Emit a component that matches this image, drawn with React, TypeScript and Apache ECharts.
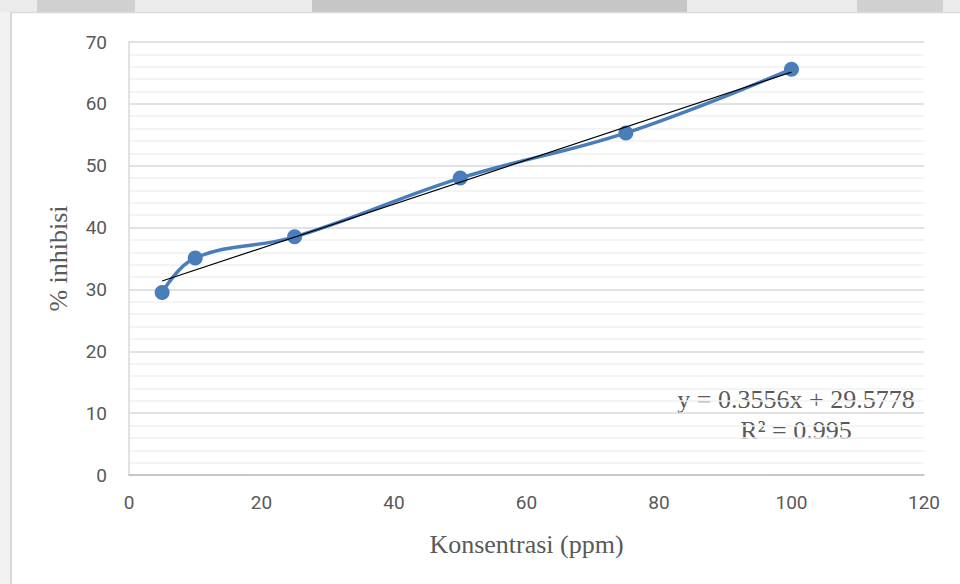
import React, { useEffect, useRef } from "react";
import * as echarts from "echarts";

const concentrations = [5, 10, 25, 50, 75, 100];
const inhibition = [29.5, 35.1, 38.5, 48.0, 55.3, 65.6];
const slope = 0.3556;
const intercept = 29.5778;
const rSquared = "0.995";
const xTicks = { min: 0, max: 120, interval: 20 };
const yTicks = { min: 0, max: 70, interval: 10 };

export default function App() {
  const ref = useRef<HTMLDivElement>(null);
  useEffect(() => {
    if (!ref.current) return;
    const chart = echarts.init(ref.current, null, { renderer: "svg" });
    const x0 = concentrations[0];
    const x1 = concentrations[concentrations.length - 1];
    const trend = [
      [x0, slope * x0 + intercept],
      [x1, slope * x1 + intercept],
    ];
    chart.setOption({
      animation: false,
      backgroundColor: "#ffffff",
      grid: { left: 129, right: 36, top: 42, bottom: 109, containLabel: false },
      xAxis: {
        type: "value",
        min: xTicks.min,
        max: xTicks.max,
        interval: xTicks.interval,
        name: "Konsentrasi (ppm)",
        nameLocation: "middle",
        nameGap: 56,
        nameTextStyle: { fontFamily: "Liberation Serif", fontSize: 26, color: "#595959" },
        axisLine: { show: true, lineStyle: { color: "#bfbfbf", width: 1.5 } },
        axisTick: { show: false },
        splitLine: { show: false },
        axisLabel: { fontFamily: "Roboto", fontSize: 19, color: "#595959", margin: 18 },
      },
      yAxis: {
        type: "value",
        min: yTicks.min,
        max: yTicks.max,
        interval: yTicks.interval,
        name: "% inhibisi",
        nameLocation: "middle",
        nameGap: 58,
        nameRotate: 90,
        nameTextStyle: { fontFamily: "Liberation Serif", fontSize: 26, color: "#595959" },
        axisLine: { show: true, lineStyle: { color: "#d9d9d9", width: 1.5 } },
        axisTick: { show: false },
        splitLine: { show: true, lineStyle: { color: "#d9d9d9", width: 1.5 } },
        minorTick: { show: false, splitNumber: 5 },
        minorSplitLine: { show: true, lineStyle: { color: "#f0f0f0", width: 1.5 } },
        axisLabel: { fontFamily: "Roboto", fontSize: 19, color: "#595959", margin: 22 },
      },
      series: [
        {
          type: "line",
          data: concentrations.map((c, i) => [c, inhibition[i]]),
          smooth: 0.4,
          symbol: "circle",
          symbolSize: 15,
          lineStyle: { color: "#4a7ebb", width: 3.5 },
          itemStyle: { color: "#4a7ebb" },
          z: 2,
        },
        {
          type: "line",
          data: trend,
          symbol: "none",
          lineStyle: { color: "#000000", width: 1.2 },
          z: 3,
        },
      ],
      graphic: [
        { type: "rect", shape: { x: 0, y: 0, width: 960, height: 12 }, style: { fill: "#ebebeb" }, z: -1 },
        { type: "rect", shape: { x: 37, y: 0, width: 98, height: 12 }, style: { fill: "#d0d0d0" }, z: -1 },
        { type: "rect", shape: { x: 312, y: 0, width: 375, height: 12 }, style: { fill: "#c6c6c6" }, z: -1 },
        { type: "rect", shape: { x: 857, y: 0, width: 86, height: 12 }, style: { fill: "#d0d0d0" }, z: -1 },
        { type: "rect", shape: { x: 0, y: 12, width: 10, height: 572 }, style: { fill: "#f2f2f2" }, z: -1 },
        { type: "line", shape: { x1: 10, y1: 12.5, x2: 960, y2: 12.5 }, style: { stroke: "#d9d9d9", lineWidth: 1.5 } },
        { type: "line", shape: { x1: 11, y1: 12, x2: 11, y2: 584 }, style: { stroke: "#d9d9d9", lineWidth: 2 } },
        {
          type: "text",
          x: 796,
          y: 399,
          style: {
            text: "y = " + slope + "x + " + intercept,
            fontFamily: "Liberation Serif",
            fontSize: 26,
            fill: "#595959",
            textAlign: "center",
            verticalAlign: "middle",
          },
        },
        {
          type: "text",
          x: 796,
          y: 430,
          style: {
            text: "R² = " + rSquared,
            fontFamily: "Liberation Serif",
            fontSize: 26,
            fill: "#595959",
            textAlign: "center",
            verticalAlign: "middle",
          },
        },
      ],
    });
    return () => chart.dispose();
  }, []);
  return (
    <div
      ref={ref}
      style={{ position: "fixed", left: 0, top: 0, width: 960, height: 584 }}
    />
  );
}
